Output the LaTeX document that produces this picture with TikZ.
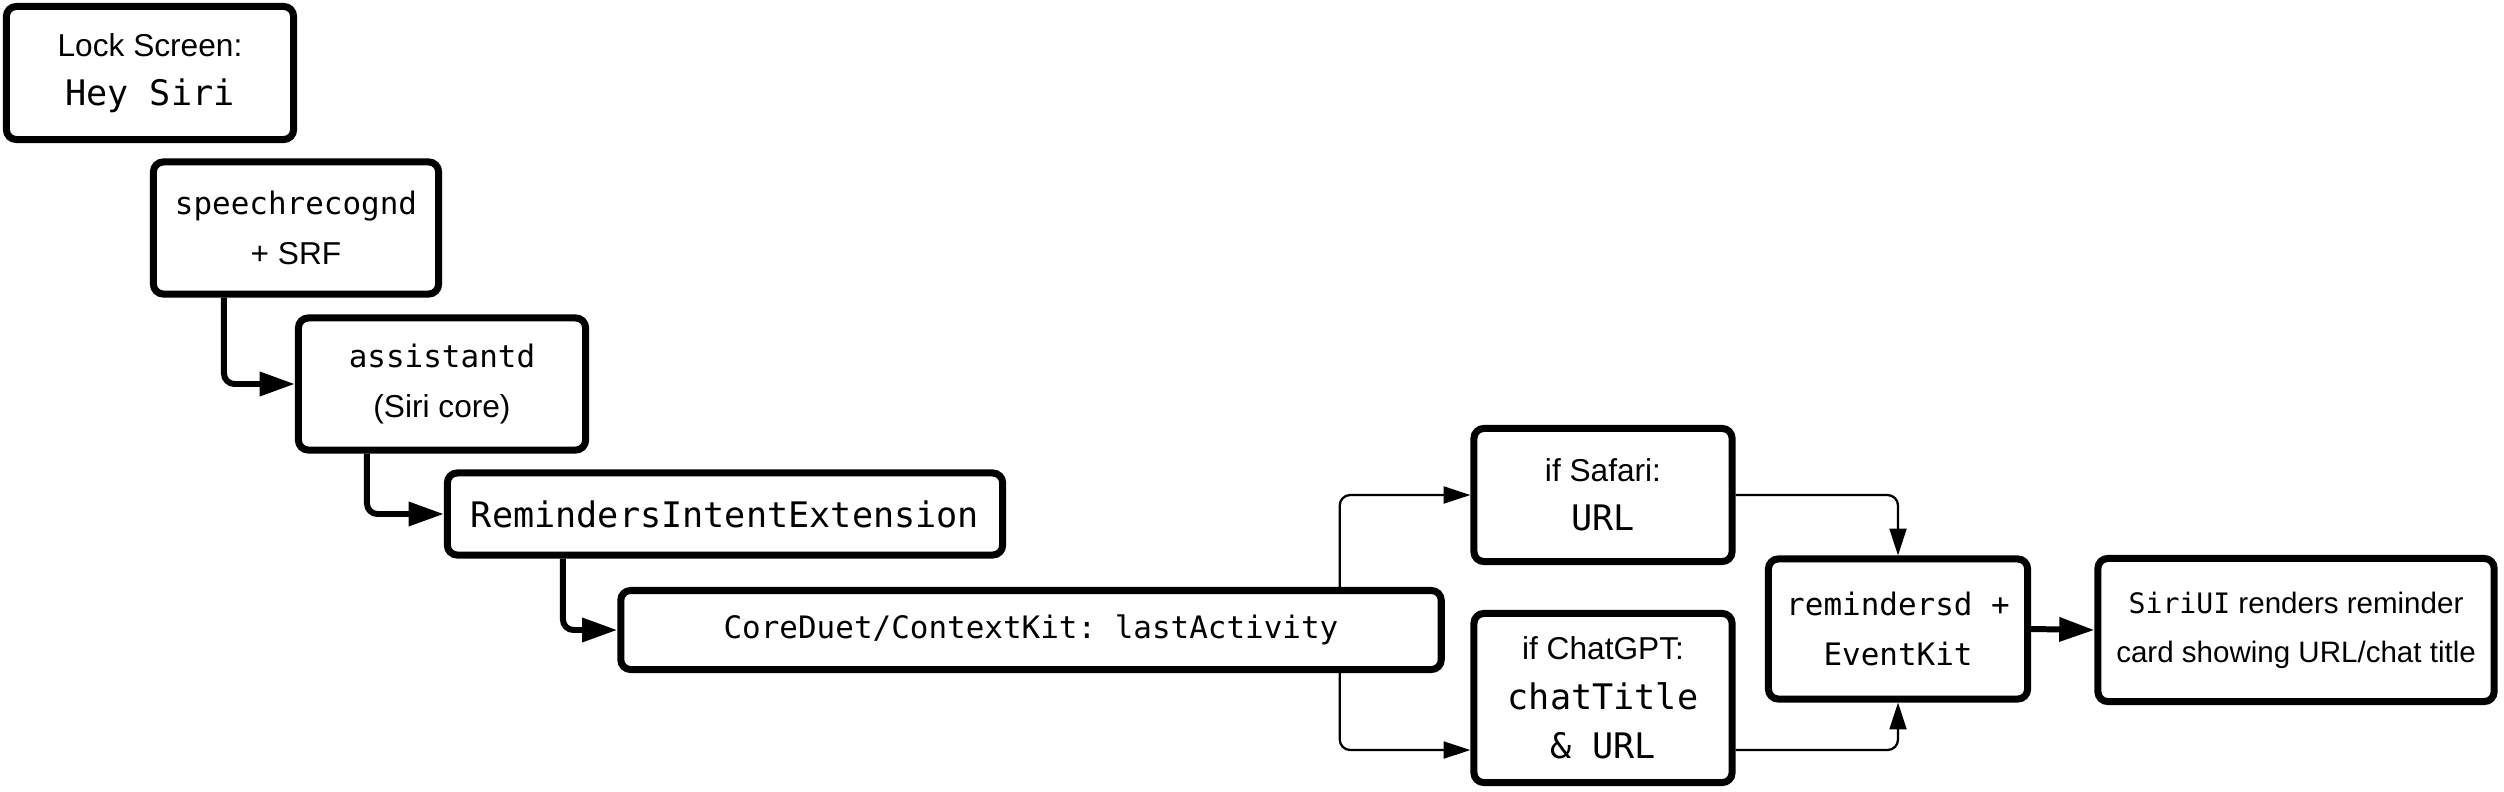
\documentclass[tikz,border=0pt]{standalone}
\usepackage{fontspec}
\setmainfont{Liberation Sans}
\setmonofont{DejaVu Sans Mono}
\usetikzlibrary{arrows.meta}

\newcommand{\ttbig}[1]{{\fontsize{10pt}{14pt}\selectfont\ttfamily #1}}
\newcommand{\ttmid}[1]{{\fontsize{8.8pt}{14pt}\selectfont\ttfamily #1}}
\newcommand{\ttsmall}[1]{{\fontsize{8pt}{14pt}\selectfont\ttfamily #1}}

\begin{document}
\begin{tikzpicture}[x=0.01cm, y=-0.01cm,
  box/.style={draw, line width=2pt, rounded corners=2.8pt, align=center,
    inner sep=0pt, font=\fontsize{9pt}{14pt}\selectfont},
  thickarrow/.style={line width=1.7pt, rounded corners=3pt,
    -{Triangle[length=10pt,width=6.6pt]}},
  thinarrow/.style={line width=0.65pt, rounded corners=3pt,
    -{Triangle[length=7.6pt,width=4.8pt]}}]

\useasboundingbox (0,0) rectangle (2504,791);

\node[box, minimum width=2.87cm, minimum height=1.33cm] (lock) at (150,73)
  {Lock Screen:\\\ttbig{Hey Siri}};
\node[box, minimum width=2.85cm, minimum height=1.32cm] (speech) at (296,228)
  {\ttmid{speechrecognd}\\+ SRF};
\node[box, minimum width=2.87cm, minimum height=1.32cm] (assist) at (442,384)
  {\ttmid{assistantd}\\(Siri core)};
\node[box, minimum width=5.55cm, minimum height=0.82cm] (intent) at (725,514)
  {\ttbig{RemindersIntentExtension}};
\node[box, minimum width=8.2cm, minimum height=0.79cm] (context) at (1031,630)
  {\ttmid{CoreDuet/ContextKit: lastActivity}};

\node[box, minimum width=2.58cm, minimum height=1.33cm] (safari) at (1603,495)
  {if Safari:\\\ttbig{URL}};
\node[box, minimum width=2.58cm, minimum height=1.69cm] (chatgpt) at (1603,698)
  {if ChatGPT:\\\ttbig{chatTitle}\\\ttbig{\& URL}};

\node[box, minimum width=2.59cm, minimum height=1.40cm] (reminders) at (1898,629)
  {\ttmid{remindersd +}\\\ttmid{EventKit}};
\node[box, minimum width=3.96cm, minimum height=1.43cm,
  font=\fontsize{8.4pt}{14pt}\selectfont] (siriui) at (2296,630)
  {\ttsmall{SiriUI} renders reminder\\card showing URL/chat title};

% main chain
\draw[thickarrow] ([xshift=0.74cm]speech.south west) |- (assist.west);
\draw[thickarrow] ([xshift=0.72cm]assist.south west) |- (intent.west);
\draw[thickarrow] ([xshift=1.19cm]intent.south west) |- (context.west);

% branches
\draw[thinarrow] ([xshift=-1.05cm]context.north east) |- (safari.west);
\draw[thinarrow] ([xshift=-1.05cm]context.south east) |- ([yshift=-0.52cm]chatgpt.west);
\draw[thinarrow] (safari.east) -| (reminders.north);
\draw[thinarrow] ([yshift=-0.52cm]chatgpt.east) -| (reminders.south);

\draw[thickarrow] (reminders.east) -- (siriui.west);

\end{tikzpicture}
\end{document}
